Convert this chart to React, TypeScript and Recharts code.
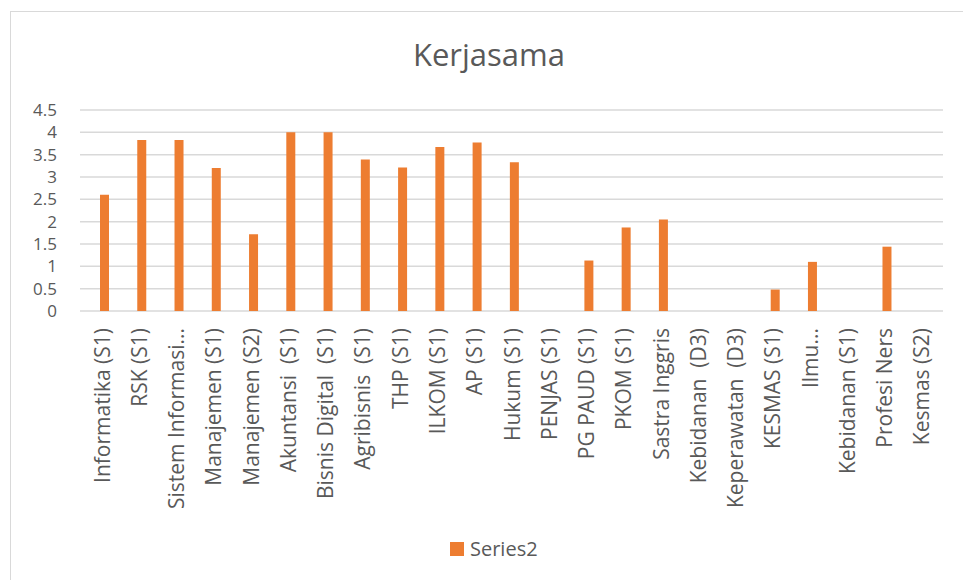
import { Bar, BarChart, CartesianGrid, Legend, XAxis, YAxis } from "recharts";

const categories = [
  "Informatika (S1)",
  "RSK (S1)",
  "Sistem Informasi...",
  "Manajemen (S1)",
  "Manajemen (S2)",
  "Akuntansi  (S1)",
  "Bisnis Digital  (S1)",
  "Agribisnis  (S1)",
  "THP (S1)",
  "ILKOM (S1)",
  "AP (S1)",
  "Hukum (S1)",
  "PENJAS (S1)",
  "PG PAUD (S1)",
  "PKOM (S1)",
  "Sastra Inggris",
  "Kebidanan  (D3)",
  "Keperawatan  (D3)",
  "KESMAS (S1)",
  "Ilmu...",
  "Kebidanan (S1)",
  "Profesi Ners",
  "Kesmas (S2)"
];

const series2 = [
  2.6, 3.83, 3.83, 3.2, 1.72, 4, 4, 3.39, 3.21, 3.67, 3.77, 3.33, 0, 1.13, 1.87, 2.05, 0, 0, 0.48, 1.1, 0, 1.44, 0
];

const yTicks = [0, 0.5, 1, 1.5, 2, 2.5, 3, 3.5, 4, 4.5];

const data = categories.map((name, i) => ({ name, value: series2[i] }));

const FONT = "'Open Sans', sans-serif";
const TEXT = "#595959";
const ORANGE = "#ed7d31";

// rotated category labels, reading bottom to top, ending just under the axis
function CategoryTick({ x, y, payload }: { x: number; y: number; payload: { value: string } }) {
  const tx = x - 3;
  const ty = y;
  return (
    <text
      x={tx}
      y={ty}
      transform={`rotate(-90 ${tx} ${ty})`}
      textAnchor="end"
      dominantBaseline="central"
      fill={TEXT}
      fontSize={21}
      fontFamily={FONT}
      style={{ whiteSpace: "pre" }}
    >
      {payload.value}
    </text>
  );
}

function LegendContent() {
  return (
    <div style={{ display: "flex", alignItems: "center", height: 20, fontFamily: FONT, fontSize: 20, lineHeight: "20px", color: TEXT }}>
      <span style={{ width: 14, height: 14, background: ORANGE, marginRight: 6, display: "inline-block" }} />
      <span>Series2</span>
    </div>
  );
}

export default function App() {
  return (
    <div style={{ position: "absolute", left: 0, top: 0, width: 963, height: 580, overflow: "hidden", background: "#fff" }}>
      <div
        style={{
          position: "absolute",
          left: 10,
          top: 11,
          width: 980,
          height: 600,
          borderLeft: "1px solid #d9d9d9",
          borderTop: "1px solid #d9d9d9"
        }}
      />
      <div
        style={{
          position: "absolute",
          left: 289,
          width: 400,
          top: 39,
          textAlign: "center",
          fontFamily: FONT,
          fontSize: 31,
          lineHeight: "31px",
          color: TEXT
        }}
      >
        Kerjasama
      </div>
      <div style={{ position: "absolute", left: 0, top: 0 }}>
        <BarChart width={963} height={580} data={data} margin={{ top: 110, right: 20, bottom: 0, left: 0 }}>
          <CartesianGrid vertical={false} stroke="#d9d9d9" strokeWidth={1.5} />
          <XAxis
            dataKey="name"
            interval={0}
            height={269}
            padding={{ left: 6, right: 0 }}
            axisLine={false}
            tickLine={false}
            tickMargin={11}
            tick={CategoryTick as any}
          />
          <YAxis
            domain={[0, 4.5]}
            ticks={yTicks}
            interval={0}
            width={80}
            axisLine={false}
            tickLine={false}
            tickMargin={17}
            tick={{ fill: TEXT, fontSize: 17, fontFamily: FONT }}
          />
          <Legend
            layout="horizontal"
            verticalAlign="middle"
            align="center"
            content={LegendContent}
            wrapperStyle={{ top: 539, left: 450, width: 200 }}
          />
          <Bar dataKey="value" name="Series2" fill={ORANGE} barSize={9} isAnimationActive={false} />
        </BarChart>
      </div>
    </div>
  );
}
